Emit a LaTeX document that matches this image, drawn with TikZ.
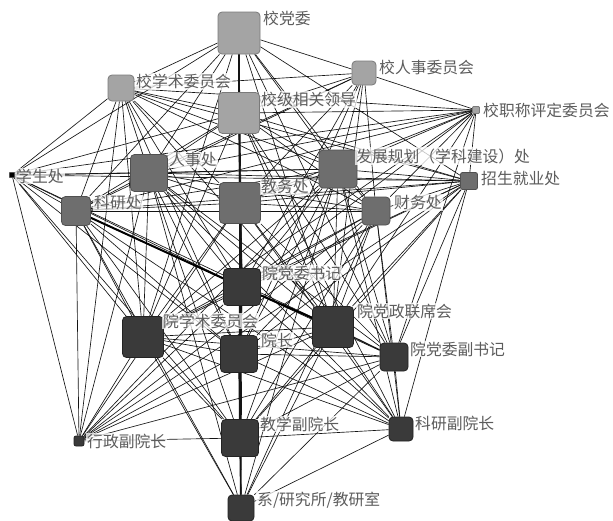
\documentclass[tikz,border=0pt]{standalone}
\usepackage{fontspec}
\setmainfont{Noto Sans CJK SC}
\pgfdeclarelayer{edges}
\pgfsetlayers{edges,main}
\definecolor{topfill}{HTML}{A4A4A4}
\definecolor{topdraw}{HTML}{7A7A7A}
\definecolor{midfill}{HTML}{6E6E6E}
\definecolor{middraw}{HTML}{505050}
\definecolor{lowfill}{HTML}{3A3A3A}
\definecolor{lowdraw}{HTML}{222222}
\definecolor{labcol}{HTML}{5C5C5C}
\begin{document}
\begin{tikzpicture}[x=1pt,y=-1pt,
  box/.style={rectangle,rounded corners=4pt,line width=0.8pt,inner sep=0pt},
  topbox/.style={box,fill=topfill,draw=topdraw},
  midbox/.style={box,fill=midfill,draw=middraw},
  lowbox/.style={box,fill=lowfill,draw=lowdraw},
  lab/.style={anchor=west,inner sep=1pt,text=labcol,font=\fontsize{15.8}{16}\selectfont,fill=white,fill opacity=0.75,text opacity=1},
  edge/.style={draw=black!92,line width=0.65pt},
  thick edge/.style={draw=black,line width=2pt}]
\useasboundingbox (0,0) rectangle (613,520);
% boxes
\node[topbox,minimum size=42pt] (A) at (239,33) {};
\node[topbox,minimum size=24pt] (B) at (364,73) {};
\node[topbox,minimum size=26pt] (C) at (121,88) {};
\node[topbox,minimum size=41pt] (D) at (239,113) {};
\node[topbox,minimum size=7pt,rounded corners=1pt] (E) at (476,110) {};
\node[midbox,minimum size=5pt,rounded corners=0.5pt,fill=black] (F) at (12,175) {};
\node[midbox,minimum size=37pt] (G) at (149,173) {};
\node[midbox,minimum size=38pt] (H) at (338,169) {};
\node[midbox,minimum size=17pt,rounded corners=2pt] (I) at (469,181) {};
\node[midbox,minimum size=29pt] (J) at (76,211) {};
\node[midbox,minimum size=41pt] (K) at (240,203) {};
\node[midbox,minimum size=28pt] (L) at (376,211) {};
\node[lowbox,minimum size=37pt] (M) at (242,287) {};
\node[lowbox,minimum size=41pt] (N) at (143,337) {};
\node[lowbox,minimum size=41pt] (O) at (333,327) {};
\node[lowbox,minimum size=37pt] (P) at (239,354) {};
\node[lowbox,minimum size=28pt] (Q) at (394,357) {};
\node[lowbox,minimum size=37pt] (R) at (240,438) {};
\node[lowbox,minimum size=24pt] (S) at (401,429) {};
\node[lowbox,minimum size=10pt,rounded corners=2pt] (T) at (79,441) {};
\node[lowbox,minimum size=26pt] (U) at (241,508) {};
% labels
\node[lab] (lA) at (262,18.5) {校党委};
\node[lab] (lB) at (378,67.5) {校人事委员会};
\node[lab] (lC) at (135,81.5) {校学术委员会};
\node[lab] (lD) at (260,99.5) {校级相关领导};
\node[lab] (lE) at (482,110) {校职称评定委员会};
\node[lab] (lF) at (15,176) {学生处};
\node[lab] (lG) at (168,160) {人事处};
\node[lab] (lH) at (355,156) {发展规划（学科建设）处};
\node[lab] (lI) at (480,178.5) {招生就业处};
\node[lab] (lJ) at (93,203) {科研处};
\node[lab] (lK) at (260,187) {教务处};
\node[lab] (lL) at (393,202.5) {财务处};
\node[lab] (lM) at (261,273) {院党委书记};
\node[lab] (lN) at (162,321) {院学术委员会};
\node[lab] (lO) at (356,311) {院党政联席会};
\node[lab] (lP) at (260,340) {院长};
\node[lab] (lQ) at (409,349) {院党委副书记};
\node[lab] (lR) at (259,424) {教学副院长};
\node[lab] (lS) at (414,423) {科研副院长};
\node[lab] (lT) at (86,441) {行政副院长};
\node[lab] (lU) at (256,500) {系/研究所/教研室};
% connectors
\begin{pgfonlayer}{edges}
\fill[white] (0,0) rectangle (613,520);
\foreach \b in {B,C,D,G,H,J,K,L,M,N,O,P,Q,I,F} \draw[edge] (A) -- (\b);
\foreach \b in {C,D,E,G,H,K,L,M,O,P,J} \draw[edge] (B) -- (\b);
\foreach \b in {D,E,F,G,H,I,J,K,L,M,N,O,P,T} \draw[edge] (C) -- (\b);
\foreach \b in {E,F,G,H,I,J,K,L,M,N,O,P,Q,R,S} \draw[edge] (D) -- (\b);
\foreach \b in {F,G,H,I,J,K,L,M,N,O,Q} \draw[edge] (E) -- (\b);
\foreach \b in {G,H,I,J,M,N,O,P,R,T} \draw[edge] (F) -- (\b);
\foreach \b in {H,I,J,K,L,M,N,O,P,Q,R,S,T,U} \draw[edge] (G) -- (\b);
\foreach \b in {I,J,K,L,M,N,O,P,Q,R,S,T,U} \draw[edge] (H) -- (\b);
\foreach \b in {J,K,L,M,N,O,P,Q,R,S,T} \draw[edge] (I) -- (\b);
\foreach \b in {K,L,N,P,Q,R,S,T,U} \draw[edge] (J) -- (\b);
\foreach \b in {L,M,N,O,P,Q,R,S,T,U} \draw[edge] (K) -- (\b);
\foreach \b in {M,N,O,P,Q,R,S,T,U} \draw[edge] (L) -- (\b);
\foreach \b in {N,P,R,S,T,U} \draw[edge] (M) -- (\b);
\foreach \b in {O,P,Q,R,S,T,U} \draw[edge] (N) -- (\b);
\foreach \b in {P,R,S,T,U} \draw[edge] (O) -- (\b);
\foreach \b in {Q,R,S,T,U} \draw[edge] (P) -- (\b);
\foreach \b in {R,S,T,U} \draw[edge] (Q) -- (\b);
\foreach \b in {S,T,U} \draw[edge] (R) -- (\b);
\foreach \b in {U} \draw[edge] (S) -- (\b);
\draw[thick edge] (J) -- (M);
\draw[thick edge] (M) -- (O);
\draw[edge,line width=1.2pt] (O) -- (Q);
\draw[edge,line width=1.6pt] (A) -- (D);
\draw[edge,line width=1.6pt] (D) -- (K);
\draw[edge,line width=1.6pt] (K) -- (M);
\draw[edge,line width=1.6pt] (M) -- (P);
\draw[edge,line width=1.6pt] (P) -- (R);
\draw[edge,line width=1.6pt] (R) -- (U);
\end{pgfonlayer}
\end{tikzpicture}
\end{document}
